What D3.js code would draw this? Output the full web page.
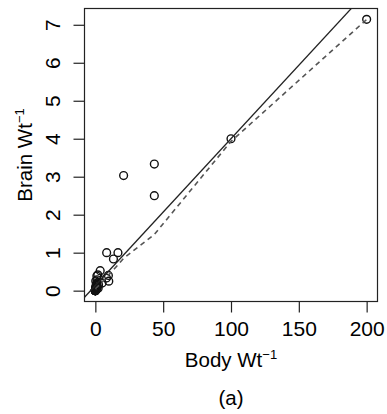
<!DOCTYPE html>
<html>
<head>
<meta charset="utf-8">
<script src="https://cdn.jsdelivr.net/npm/d3@7"></script>
<style>
  html, body { margin: 0; padding: 0; background: #fff; }
  svg { display: block; }
  text { font-family: "Liberation Sans", Arial, Helvetica, sans-serif; fill: #000; }
</style>
</head>
<body>
<svg id="chart" width="387" height="414"></svg>
<script>
// Inverse body weight (1/kg) and inverse brain weight (1/g) for 62 mammal species
const bodyInv = [0.2954, 2.0833, 0.7407, 0.0022, 0.0275, 0.0362, 0.0674, 0.9615, 0.2387, 2.3529,
                 9.901, 1.087, 1.0, 200, 16.667, 0.2857, 0.5, 0.5882, 0.0004, 43.478,
                 0.0053, 0.0019, 1.2739, 0.1, 0.303, 5.0, 0.7092, 0.0019, 0.0048, 0.0118,
                 1.3333, 0.0161, 0.0002, 0.2857, 0.1471, 0.0286, 0.2469, 8.3333, 43.478, 100,
                 0.7143, 0.004, 0.4, 0.018, 0.01, 0.0192, 0.0948, 1.8182, 0.0167, 0.2778,
                 0.2332, 3.5714, 13.333, 8.1967, 20.833, 0.0052, 0.3333, 0.0063, 1.1111, 0.6173,
                 9.6154, 0.2361];
const brainInv = [0.0225, 0.0645, 0.1235, 0.0024, 0.0084, 0.0087, 0.0102, 0.1818, 0.0172, 0.1563,
                  0.25, 0.1754, 0.1515, 7.1429, 1.0, 0.0926, 0.0813, 0.1587, 0.0002, 3.3333,
                  0.0024, 0.0015, 0.2857, 0.0087, 0.0391, 0.2, 0.0571, 0.0015, 0.0025, 0.0031,
                  0.0813, 0.0008, 0.0002, 0.2564, 0.0056, 0.0179, 0.0588, 1.0, 2.5, 4.0,
                  0.08, 0.002, 0.0826, 0.0057, 0.0064, 0.0023, 0.0056, 0.4167, 0.0123, 0.0476,
                  0.0255, 0.5263, 0.8333, 0.3333, 3.0303, 0.0056, 0.04, 0.0059, 0.3846, 0.0877,
                  0.4, 0.0198];

// Smoother (dashed curve) vertices
const smoothX = [0.0, 5.0, 10.0, 16.7, 20.8, 43.5, 100, 200];
const smoothY = [0.05, 0.22, 0.42, 0.68, 0.85, 1.48, 3.93, 7.14];

// Axis ticks
const xTicks = [0, 50, 100, 150, 200];
const yTicks = [0, 1, 2, 3, 4, 5, 6, 7];

const svg = d3.select("#chart");
const box = { left: 84.5, right: 377.5, top: 8.5, bottom: 301.5 };

// R-style 4% padding on the data range
function padded(v) {
  const [lo, hi] = d3.extent(v);
  const p = (hi - lo) * 0.04;
  return [lo - p, hi + p];
}

const x = d3.scaleLinear().domain(padded(bodyInv)).range([box.left, box.right]);
const y = d3.scaleLinear().domain(padded(brainInv)).range([box.bottom, box.top]);

const pts = bodyInv.map((b, i) => ({ x: b, y: brainInv[i] }));

// Ordinary least squares fit of brainInv on bodyInv
const mx = d3.mean(bodyInv), my = d3.mean(brainInv);
const sxy = d3.sum(pts, d => (d.x - mx) * (d.y - my));
const sxx = d3.sum(pts, d => (d.x - mx) ** 2);
const slope = sxy / sxx;
const intercept = my - slope * mx;

svg.append("clipPath").attr("id", "plotClip")
  .append("rect")
  .attr("x", box.left).attr("y", box.top)
  .attr("width", box.right - box.left).attr("height", box.bottom - box.top);

const plot = svg.append("g").attr("clip-path", "url(#plotClip)");

// Points
plot.append("g").selectAll("circle")
  .data(pts)
  .join("circle")
  .attr("cx", d => x(d.x))
  .attr("cy", d => y(d.y))
  .attr("r", 3.9)
  .attr("fill", "none")
  .attr("stroke", "#111")
  .attr("stroke-width", 1.4);

// OLS line across the full plotting region
const [x0, x1] = x.domain();
plot.append("line")
  .attr("x1", x(x0)).attr("y1", y(intercept + slope * x0))
  .attr("x2", x(x1)).attr("y2", y(intercept + slope * x1))
  .attr("stroke", "#222")
  .attr("stroke-width", 1.3);

// Dashed smoother
plot.append("path")
  .datum(smoothX.map((v, i) => [v, smoothY[i]]))
  .attr("d", d3.line().x(d => x(d[0])).y(d => y(d[1])))
  .attr("fill", "none")
  .attr("stroke", "#555")
  .attr("stroke-width", 1.6)
  .attr("stroke-dasharray", "5,4");

// Frame
svg.append("rect")
  .attr("x", box.left).attr("y", box.top)
  .attr("width", box.right - box.left).attr("height", box.bottom - box.top)
  .attr("fill", "none")
  .attr("stroke", "#222")
  .attr("stroke-width", 1.2);

// Bottom axis
const gx = svg.append("g")
  .attr("transform", `translate(0,${box.bottom})`)
  .call(d3.axisBottom(x).tickValues(xTicks).tickSize(11).tickPadding(9).tickFormat(d3.format("d")));
gx.select(".domain").remove();
gx.selectAll(".tick line").attr("stroke", "#222").attr("stroke-width", 1.2);
gx.selectAll(".tick text").attr("font-size", 21).attr("font-family", null);

// Left axis with labels parallel to the axis
const gy = svg.append("g")
  .attr("transform", `translate(${box.left},0)`)
  .call(d3.axisLeft(y).tickValues(yTicks).tickSize(11).tickFormat(d3.format("d")));
gy.select(".domain").remove();
gy.selectAll(".tick line").attr("stroke", "#222").attr("stroke-width", 1.2);
gy.selectAll(".tick text")
  .attr("x", null).attr("dy", null)
  .attr("text-anchor", "middle")
  .attr("font-size", 21).attr("font-family", null)
  .attr("transform", "translate(-24.5,0) rotate(-90)");

// Axis titles
const xt = svg.append("text")
  .attr("x", 231).attr("y", 367)
  .attr("text-anchor", "middle")
  .attr("font-size", 20.5);
xt.append("tspan").text("Body Wt");
xt.append("tspan").attr("font-size", 13).attr("dy", -8).text("\u22121");

const yt = svg.append("text")
  .attr("transform", "translate(31.5,155) rotate(-90)")
  .attr("text-anchor", "middle")
  .attr("font-size", 20.5);
yt.append("tspan").text("Brain Wt");
yt.append("tspan").attr("font-size", 13).attr("dy", -8).text("\u22121");

svg.append("text")
  .attr("x", 231).attr("y", 405)
  .attr("text-anchor", "middle")
  .attr("font-size", 20.5)
  .text("(a)");
</script>
</body>
</html>
